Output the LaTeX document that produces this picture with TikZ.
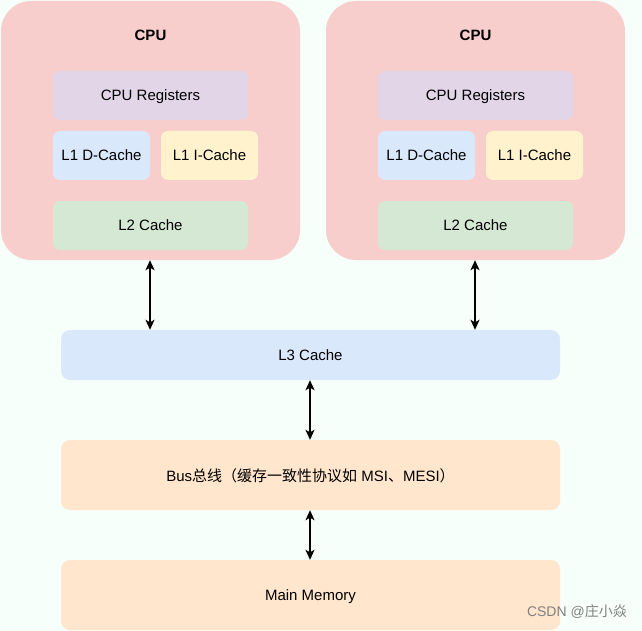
\documentclass[tikz,border=0pt]{standalone}
\usepackage{fontspec}
\setmainfont{Liberation Sans}
\newfontfamily\cjk{Noto Sans CJK SC}
\usetikzlibrary{arrows.meta}
\definecolor{bgc}{HTML}{F6FFF9}
\definecolor{cpuc}{HTML}{F8CECC}
\definecolor{regc}{HTML}{E1D5E7}
\definecolor{bluec}{HTML}{DAE8FC}
\definecolor{yelc}{HTML}{FFF2CC}
\definecolor{grnc}{HTML}{D5E8D4}
\definecolor{orc}{HTML}{FFE6CC}
\tikzset{
  box/.style={rectangle, rounded corners=7pt, draw=none, inner sep=0pt, text depth=0pt, font=\fontsize{15}{18}\selectfont, text=black},
  cpubox/.style={box, fill=cpuc, rounded corners=30pt, minimum width=299pt, minimum height=259pt},
  wide/.style={box, minimum width=195pt, minimum height=49pt},
  half/.style={box, minimum width=97pt, minimum height=49pt},
  long/.style={box, rounded corners=9pt, minimum width=499pt},
  conn/.style={line width=1.5pt, {Stealth[length=10pt,width=9pt,inset=2.5pt]}-{Stealth[length=10pt,width=9pt,inset=2.5pt]}}
}
\begin{document}
\begin{tikzpicture}[x=1pt,y=-1pt]
\fill[bgc] (0,0) rectangle (642,631);
\useasboundingbox (0,0) rectangle (642,631);
% left CPU
\node[cpubox] (cpu1) at (150.5,130.5) {};
\node[font=\bfseries\fontsize{15}{18}\selectfont, text depth=0pt] (cpu1t) at (150.5,35) {CPU};
\node[wide, fill=regc] (reg1) at (150.5,95.5) {CPU Registers};
\node[half, fill=bluec] (d1) at (101.5,155.5) {L1 D-Cache};
\node[half, fill=yelc] (i1) at (209.5,155.5) {L1 I-Cache};
\node[wide, fill=grnc] (l21) at (150.5,225.5) {L2 Cache};
% right CPU
\node[cpubox] (cpu2) at (475.5,130.5) {};
\node[font=\bfseries\fontsize{15}{18}\selectfont, text depth=0pt] (cpu2t) at (475.5,35) {CPU};
\node[wide, fill=regc] (reg2) at (475.5,95.5) {CPU Registers};
\node[half, fill=bluec] (d2) at (426.5,155.5) {L1 D-Cache};
\node[half, fill=yelc] (i2) at (534.5,155.5) {L1 I-Cache};
\node[wide, fill=grnc] (l22) at (475.5,225.5) {L2 Cache};
% shared
\node[long, fill=bluec, minimum height=50pt] (l3) at (310.5,355) {L3 Cache};
\node[long, fill=orc, minimum height=70pt] (bus) at (310.5,475) {Bus{\cjk 总线（缓存一致性协议如} MSI{\cjk 、}MESI{\cjk ）}};
\node[long, fill=orc, minimum height=70pt] (mem) at (310.5,595) {Main Memory};
% connectors
\draw[conn] ([xshift=-0.5pt]cpu1.south) -- ([xshift=-0.5pt]cpu1.south |- l3.north);
\draw[conn] ([xshift=-0.5pt]cpu2.south) -- ([xshift=-0.5pt]cpu2.south |- l3.north);
\draw[conn] ([xshift=-0.5pt]l3.south) -- ([xshift=-0.5pt]bus.north);
\draw[conn] ([xshift=-0.5pt]bus.south) -- ([xshift=-0.5pt]mem.north);
% watermark
\node[anchor=east, text=black!50, font=\fontsize{14}{16}\selectfont, inner sep=0pt] (wm) at (627,612) {CSDN @{\cjk 庄小焱}};
\end{tikzpicture}
\end{document}
